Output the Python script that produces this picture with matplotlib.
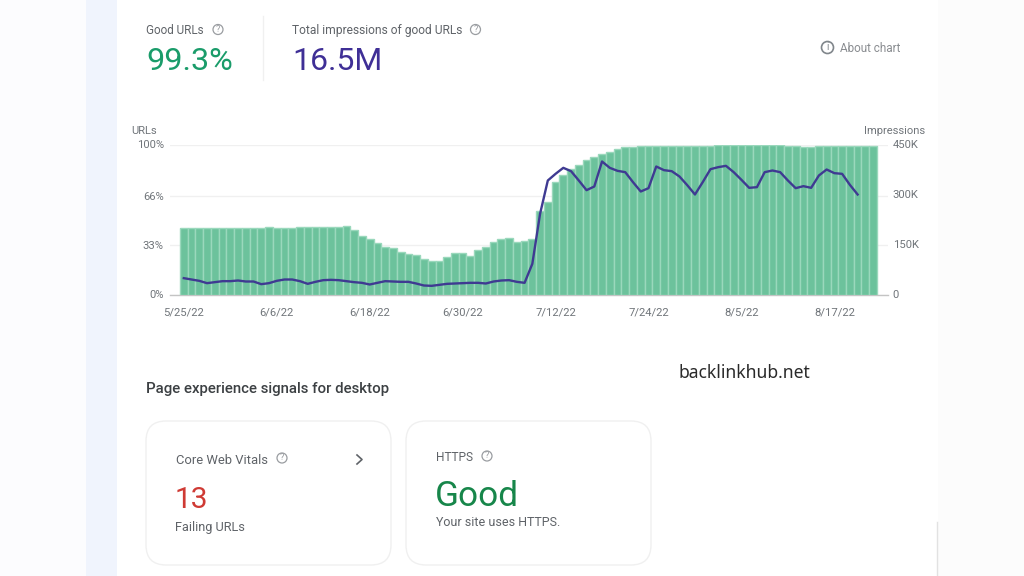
import matplotlib
matplotlib.use("Agg")
import matplotlib.pyplot as plt
from matplotlib.patches import FancyBboxPatch, Rectangle, Circle

plt.rcParams['font.family'] = ['Roboto', 'DejaVu Sans']

# ---- data ----
good_pct = [44.5]*11 + [45.2] + [44.5]*3 + [45.2]*5 + [44.8, 45.4,
    42.8, 39.2, 36.7, 34.3, 32.0, 30.7, 28.3, 27.2, 26.5, 23.6, 22.3, 22.3, 24.7, 27.6, 27.6, 26.0,
    30.0, 32.0, 35.0, 36.7, 37.4, 35.0, 35.4, 36.7, 55.5, 62.0, 75.0, 80.0, 84.0, 86.4, 89.8, 91.8,
    93.5, 94.7, 97.0, 98.4, 98.4, 99.0, 99.0, 99.0, 99.0, 99.0, 99.0, 99.0, 99.0, 99.0, 99.0,
    99.5, 99.5, 99.5, 99.5, 99.5, 99.5, 99.5, 99.5, 99.5, 99.2, 98.8, 98.2, 98.2,
    98.8, 98.8, 98.8, 99.0, 99.0, 99.0, 99.0, 99.0]
impressions_k = [49, 45, 41, 34, 37, 40, 40, 42, 39, 39, 31, 34, 41, 45, 45, 40, 32, 38, 43, 44,
    43, 40, 37, 35, 30, 35, 40, 39, 38, 38, 33, 27, 26, 29, 32, 33, 34, 35, 35, 33, 39, 42, 43, 38,
    35, 92, 242, 342, 362, 380, 370, 342, 313, 324, 399, 380, 371, 367, 337, 309, 319, 384, 373, 370,
    354, 328, 300, 337, 376, 382, 386, 367, 344, 320, 322, 367, 372, 367, 342, 319, 325, 320, 357,
    375, 364, 362, 329, 300]
date_ticks = ['5/25/22', '6/6/22', '6/18/22', '6/30/22', '7/12/22', '7/24/22', '8/5/22', '8/17/22']
left_ticks = [0, 33, 66, 100]
left_labels = ['0%', '33%', '66%', '100%']
right_ticks = [0, 150, 300, 450]
right_labels = ['0', '150K', '300K', '450K']

W, H = 1024, 576
fig = plt.figure(figsize=(W/100, H/100), dpi=100, facecolor='white')

# page layer in pixel coordinates
pg = fig.add_axes([0, 0, 1, 1], zorder=0)
pg.set_xlim(0, W); pg.set_ylim(H, 0); pg.axis('off')
pg.add_patch(Rectangle((0, 0), 86, H, fc='#fcfcfe', ec='none'))
pg.add_patch(Rectangle((86, 0), 31, H, fc='#f0f4fd', ec='none'))
pg.add_patch(Rectangle((938, 0), 86, H, fc='#fcfcfc', ec='none'))
pg.plot([262.5, 262.5], [16, 80], color='#f0f0f0', lw=1)
pg.plot([936.5, 936.5], [522, 576], color='#e2e2e2', lw=1)

GREY = '#5f6368'
def t(x, y, s, size, color=GREY, ha='left', weight='normal', family=None):
    pg.text(x, y, s, fontsize=size, color=color, ha=ha, va='center', fontweight=weight,
            **({'family': family} if family else {}))
def q(x, y, r=5):
    pg.add_patch(Circle((x, y), r, fc='none', ec='#9a9da1', lw=0.9))
    pg.text(x, y, '?', fontsize=6.5, color='#9a9da1', ha='center', va='center')

t(146, 30.5, 'Good URLs', 8.4); q(218, 29.5)
t(146, 62, '99.3%', 23.3, '#1a9c6a')
t(292, 30.5, 'Total impressions of good URLs', 8.65); q(475.5, 29.5)
t(292, 62, '16.5M', 23, '#3f2f96')
pg.add_patch(Circle((827.5, 47.5), 6, fc='none', ec='#80868b', lw=1.2))
pg.text(827.5, 47.5, 'i', fontsize=7, color='#80868b', ha='center', va='center')
t(840, 48.5, 'About chart', 8.5, '#8a8d91')

t(131, 130.5, 'URLs', 8.0, '#70757a')
t(925, 130.5, 'Impressions', 8.0, '#70757a', ha='right')

t(146, 389, 'Page experience signals for desktop', 10.8, '#3c4043', weight='medium')
t(679, 372.5, 'backlinkhub.net', 12.6, '#2a2a2a', weight='bold', family=['Noto Sans', 'DejaVu Sans'])

for x0, x1 in [(146, 391), (406, 651)]:
    pg.add_patch(FancyBboxPatch((x0+20, 421+20), x1-x0-40, 144-40,
                                boxstyle='round,pad=20,rounding_size=20',
                                fc='white', ec='#f0f0f0', lw=1))
t(176, 460, 'Core Web Vitals', 9.4); q(282, 458)
pg.plot([357, 362, 357], [455, 459.5, 464], color=GREY, lw=1.2)
t(175, 499.5, '13', 21.5, '#cf3a34')
t(175, 527, 'Failing URLs', 9.2)
t(436, 457.5, 'HTTPS', 8.6); q(487, 456)
t(435, 496, 'Good', 25.3, '#17864a')
t(436, 523, 'Your site uses HTTPS.', 9.0)

# chart: pixel-calibrated axes
x_left, x_right = 170.0, 888.0
step = 7.745
first = 183.8
ax = fig.add_axes([x_left/W, 1-294.5/H, (x_right-x_left)/W, 150/H], zorder=1)
ax.patch.set_alpha(0)
ax.set_xlim((x_left-first)/step, (x_right-first)/step)
ax.set_ylim(0, 100)
ax.bar(range(len(good_pct)), good_pct, width=1.0, color='#6cc29c',
       edgecolor='#9ad8bc', linewidth=1.0, zorder=2)
ax.set_yticks(left_ticks, left_labels)
ax.set_xticks([i*12 for i in range(len(date_ticks))], date_ticks)
ax.tick_params(axis='both', length=0, labelsize=8.1, labelcolor='#70757a')
ax.tick_params(axis='x', pad=9)
ax.tick_params(axis='y', pad=4.5)
ax.grid(axis='y', color='#f0f0f0', lw=1, zorder=0)
ax.axhline(0, color='#c4c4c4', lw=1, zorder=1, clip_on=False)
ax.set_axisbelow(True)
for s in ax.spines.values():
    s.set_visible(False)

ax2 = ax.twinx()
ax2.set_ylim(0, 450)
ax2.plot(range(len(impressions_k)), impressions_k, color='#3f3a92', lw=1.7, zorder=3, solid_joinstyle='round')
ax2.set_yticks(right_ticks, right_labels)
ax2.tick_params(axis='y', length=0, labelsize=8.1, labelcolor='#70757a', pad=3.5)
for s in ax2.spines.values():
    s.set_visible(False)

fig.savefig('out.png', dpi=100)
